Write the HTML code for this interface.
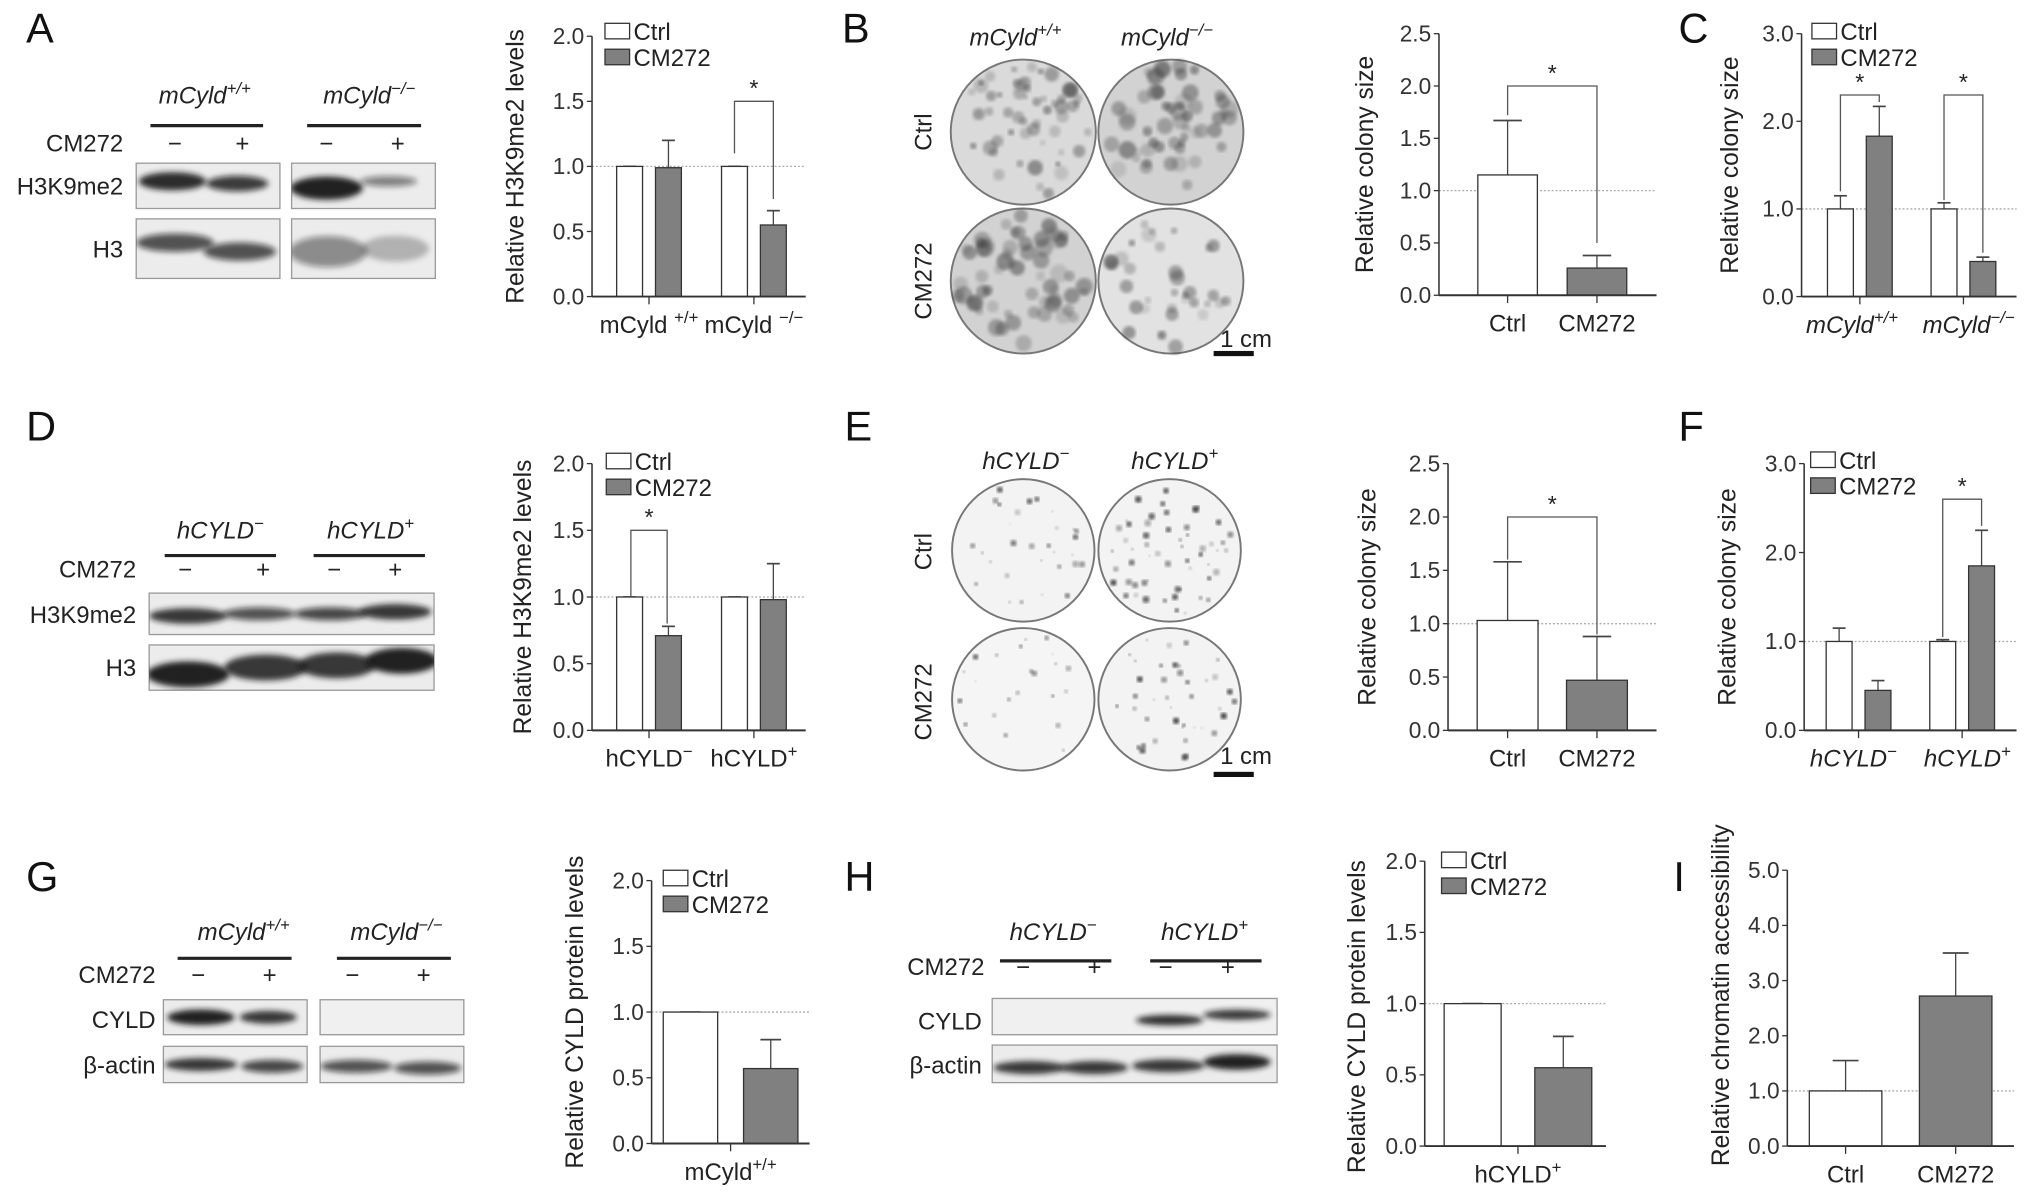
<!DOCTYPE html>
<html><head><meta charset="utf-8"><style>
html,body{margin:0;padding:0;background:#fff}
svg{display:block;font-family:"Liberation Sans",Arial,sans-serif}
</style></head><body>
<svg id="fig" width="2031" height="1194" viewBox="0 0 1568 922" xmlns="http://www.w3.org/2000/svg">
<defs>
<filter id="blur2" x="-20%" y="-50%" width="140%" height="200%"><feGaussianBlur stdDeviation="2.2"/></filter>
<filter id="blur1"><feGaussianBlur stdDeviation="1.3"/></filter>
</defs>
<g id="static"></g>
</svg>
<script>
// ---------- DATA ----------
const aGroups=["mCyld+/+","mCyld−/−"];
const aCtrl=[1.0,1.0];
const aCM=[0.99,0.55];
const aCtrlErr=[1.0,1.0];
const aCMErr=[1.2,0.66];
const bCats=["Ctrl","CM272"];
const bVals=[1.15,0.26];
const bErr=[1.67,0.38];
const cGroups=["mCyld+/+","mCyld−/−"];
const cCtrl=[1.0,1.0];
const cCM=[1.83,0.4];
const cCtrlErr=[1.15,1.07];
const cCMErr=[2.17,0.45];
const dGroups=["hCYLD−","hCYLD+"];
const dCtrl=[1.0,1.0];
const dCM=[0.71,0.98];
const dCtrlErr=[1.0,1.0];
const dCMErr=[0.78,1.25];
const eCats=["Ctrl","CM272"];
const eVals=[1.03,0.47];
const eErr=[1.58,0.88];
const fGroups=["hCYLD−","hCYLD+"];
const fCtrl=[1.0,1.0];
const fCM=[0.45,1.85];
const fCtrlErr=[1.15,1.02];
const fCMErr=[0.56,2.25];
const gGroups=["mCyld+/+"];
const gCtrl=[1.0];
const gCM=[0.57];
const gCtrlErr=[1.0];
const gCMErr=[0.79];
const hGroups=["hCYLD+"];
const hCtrl=[1.0];
const hCM=[0.55];
const hCtrlErr=[1.0];
const hCMErr=[0.77];
const iCats=["Ctrl","CM272"];
const iVals=[1.0,2.72];
const iErr=[1.55,3.5];

const NS="http://www.w3.org/2000/svg";
const root=document.getElementById('static');
function el(tag,attrs,parent,text){const e=document.createElementNS(NS,tag);for(const k in attrs)e.setAttribute(k,attrs[k]);if(text!==undefined)e.textContent=text;(parent||root).appendChild(e);return e;}

function label(t,x,y,sub,opts){
  const o=opts||{};
  const e=el('text',{x:x,y:y,'font-size':o.fs||18,'text-anchor':o.anchor||'middle','font-style':o.italic?'italic':'normal',fill:'#222'},o.parent);
  
  
  if(o.rot!==undefined)e.setAttribute('transform','rotate('+o.rot+' '+x+' '+y+')');
  e.appendChild(document.createTextNode(t));
  if(sub){el('tspan',{'font-size':(o.fs||18)*0.7,dy:-(o.fs||18)*0.4},e,sub);}
  return e;
}

function panelLetter(t,x,y){const e=el('text',{x:x,y:y,'font-size':32,fill:'#111'},root,t);

}

function chart(name,c){
  const g=el('g',{});
  
  
  const y=v=>c.yb-v/c.max*(c.yb-c.yt);
  const r=el('line',{x1:c.ax,x2:c.x1,y1:y(1),y2:y(1),stroke:'#aaa','stroke-width':1,'stroke-dasharray':'1.5,1.5'},g);
  
  
  c.bars.forEach((b,i)=>{
    const bx=c.centers[b.g]+b.off-c.bw/2;
    const eb=el('line',{x1:bx+c.bw/2,x2:bx+c.bw/2,y1:y(b.v),y2:y(b.e),stroke:'#444','stroke-width':1},g);
    
    
    const cap=el('line',{x1:bx+c.bw/2-c.cap/2,x2:bx+c.bw/2+c.cap/2,y1:y(b.e),y2:y(b.e),stroke:'#444','stroke-width':1.3},g);
    
    
    const rc=el('rect',{x:bx,y:y(b.v),width:c.bw,height:c.yb-y(b.v),fill:b.fill,stroke:'#333','stroke-width':1},g);
    
    
  });
  const ya=el('line',{x1:c.ax,x2:c.ax,y1:c.yt,y2:c.yb,stroke:'#333','stroke-width':1.2},g);
  
  
  const xa=el('line',{x1:c.ax,x2:c.x1,y1:c.yb,y2:c.yb,stroke:'#333','stroke-width':1.5},g);
  
  
  for(let v=0;v<=c.max+1e-9;v+=c.step){
    el('line',{x1:c.ax-4,x2:c.ax,y1:y(v),y2:y(v),stroke:'#333'},g);
    const t=el('text',{x:c.ax-6,y:y(v)+6,'font-size':17.5,'text-anchor':'end',fill:'#333'},g,v.toFixed(1));
    
    
  }
  c.xlabels.forEach((xl,i)=>{
    el('line',{x1:c.centers[i],x2:c.centers[i],y1:c.yb,y2:c.yb+6,stroke:'#333'},g);
    label(xl.t,c.centers[i]+(xl.dx||0),c.yb+28,xl.sup,{italic:xl.it,parent:g,name:'x-tick-label',fs:18.5});
  });
  label(c.title,c.tx,(c.yt+c.yb)/2+(c.tdy||0),null,{rot:-90,parent:g,name:'y-axis-title',fs:19});
  if(c.legend){
    const [lx,ly]=c.legend;
    const l1=el('rect',{x:lx,y:ly-7,width:19,height:12,fill:'#fff',stroke:'#333'},g);
    
    
    label('Ctrl',lx+22,ly+6,null,{anchor:'start',parent:g,name:'legend-entry-ctrl',fs:18.5});
    const l2=el('rect',{x:lx,y:ly+13,width:19,height:12,fill:'#808080',stroke:'#333'},g);
    
    
    label('CM272',lx+22,ly+26,null,{anchor:'start',parent:g,name:'legend-entry-cm272',fs:18.5});
  }
  (c.brackets||[]).forEach(br=>{
    const p=el('path',{d:`M${br.xl},${y(br.l)}V${y(br.top)}H${br.xr}V${y(br.r)}`,fill:'none',stroke:'#555','stroke-width':1},g);
    
    
    label('*',(br.xl+br.xr)/2,y(br.top)-4,null,{parent:g,name:'significance-star',fs:18});
  });
}
function grouped(ctrl,cm,ce,me,off){const bars=[];ctrl.forEach((v,i)=>{bars.push({g:i,off:-off,v:v,e:ce[i],fill:'#fff'});bars.push({g:i,off:off,v:cm[i],e:me[i],fill:'#808080'});});return bars;}
function single(vals,errs){return vals.map((v,i)=>({g:i,off:0,v:v,e:errs[i],fill:i===0?'#fff':'#808080'}));}

chart('chart-a',{ax:457,x1:622,yb:229,yt:28,max:2,step:0.5,centers:[501,582],bw:20,cap:10,
 bars:grouped(aCtrl,aCM,aCtrlErr,aCMErr,15),
 xlabels:[{t:'mCyld ',sup:'+/+'},{t:'mCyld ',sup:'−/−'}],title:'Relative H3K9me2 levels',tx:404,legend:[467,25],
 brackets:[{xl:567,xr:597,top:1.5,l:1.1,r:0.75}]});
chart('chart-b',{ax:1111,x1:1279,yb:228,yt:26,max:2.5,step:0.5,centers:[1164,1233],bw:46,cap:22,
 bars:single(bVals,bErr),xlabels:[{t:bCats[0]},{t:bCats[1]}],title:'Relative colony size',tx:1060,
 brackets:[{xl:1164,xr:1233,top:2.0,l:1.72,r:0.5}]});
chart('chart-c',{ax:1391,x1:1557,yb:229,yt:26,max:3,step:1,centers:[1436,1516],bw:20,cap:10,
 bars:grouped(cCtrl,cCM,cCtrlErr,cCMErr,15),
 xlabels:[{t:'mCyld',sup:'+/+',it:1,dx:-6},{t:'mCyld',sup:'−/−',it:1,dx:4}],title:'Relative colony size',tx:1342,legend:[1399,25],
 brackets:[{xl:1421,xr:1451,top:2.3,l:1.2,r:2.22},{xl:1501,xr:1531,top:2.3,l:1.1,r:0.5}]});
chart('chart-d',{ax:457,x1:622,yb:564,yt:358,max:2,step:0.5,centers:[501,582],bw:20,cap:10,
 bars:grouped(dCtrl,dCM,dCtrlErr,dCMErr,15),
 xlabels:[{t:'hCYLD',sup:'−'},{t:'hCYLD',sup:'+'}],title:'Relative H3K9me2 levels',tx:410,legend:[468,357],
 brackets:[{xl:487,xr:515,top:1.5,l:1.0,r:0.8}]});
chart('chart-e',{ax:1118,x1:1279,yb:564,yt:358,max:2.5,step:0.5,centers:[1164,1233],bw:47,cap:22,
 bars:single(eVals,eErr),xlabels:[{t:eCats[0]},{t:eCats[1]}],title:'Relative colony size',tx:1062,
 brackets:[{xl:1164,xr:1233,top:2.0,l:1.6,r:0.9}]});
chart('chart-f',{ax:1393,x1:1557,yb:564,yt:358,max:3,step:1,centers:[1435,1515],bw:20,cap:10,
 bars:grouped(fCtrl,fCM,fCtrlErr,fCMErr,15),
 xlabels:[{t:'hCYLD',sup:'−',it:1,dx:-4},{t:'hCYLD',sup:'+',it:1,dx:4}],title:'Relative colony size',tx:1340,legend:[1398,356],
 brackets:[{xl:1500,xr:1530,top:2.6,l:1.05,r:2.3}]});
chart('chart-g',{ax:503,x1:625,yb:883,yt:680,max:2,step:0.5,centers:[564],bw:42,cap:16,
 bars:grouped(gCtrl,gCM,gCtrlErr,gCMErr,31),
 xlabels:[{t:'mCyld',sup:'+/+'}],title:'Relative CYLD protein levels',tx:450,tdy:0,legend:[512,679]});
chart('chart-h',{ax:1100,x1:1240,yb:885,yt:665,max:2,step:0.5,centers:[1172],bw:44,cap:16,
 bars:grouped(hCtrl,hCM,hCtrlErr,hCMErr,35),
 xlabels:[{t:'hCYLD',sup:'+'}],title:'Relative CYLD protein levels',tx:1054,tdy:10,legend:[1113,665]});
chart('chart-i',{ax:1380,x1:1555,yb:885,yt:672,max:5,step:1,centers:[1425,1510],bw:56,cap:20,
 bars:single(iVals,iErr),xlabels:[{t:iCats[0]},{t:iCats[1]}],title:'Relative chromatin accessibility',tx:1335,tdy:-10});

[['A',20,33],['B',650,33],['C',1296,33],['D',20,340],['E',652,340],['F',1296,340],['G',20,688],['H',652,688],['I',1292,688]].forEach(p=>panelLetter(...p));

function blot(name,x,y,w,h,bands,bg){
  const g=el('g',{});
  
  
  el('rect',{x:x,y:y,width:w,height:h,fill:bg||'#ececec',stroke:'#999','stroke-width':1},g);
  const cp='cp'+Math.round(x)+'_'+Math.round(y);
  const c=el('clipPath',{id:cp},g);el('rect',{x:x,y:y,width:w,height:h},c);
  const bg2=el('g',{'clip-path':`url(#${cp})`},g);
  bands.forEach(b=>el('ellipse',{cx:b[0],cy:y+h*b[1],rx:b[2],ry:b[3],fill:`rgba(20,20,20,${b[4]})`,filter:'url(#blur2)'},bg2));
}
function blotHeader(lbls,lines,signs,cmY,cmX,lblY,lineY){
  lbls.forEach(l=>label(l[0],l[1],lblY,l[2],{italic:1,name:'genotype-label',fs:18.5}));
  lines.forEach(l=>{const e=el('line',{x1:l[0],x2:l[1],y1:lineY,y2:lineY,stroke:'#222','stroke-width':2.5});});
  label('CM272',cmX,cmY+6,null,{anchor:'end',name:'treatment-label',fs:18.5});
  signs.forEach((s,i)=>label(i%2?'+':'−',s,cmY+6,null,{name:'treatment-sign',fs:18.5}));
}
blotHeader([['mCyld',158,'+/+'],['mCyld',285,'−/−']],[[116,203],[237,325]],[135,187,252,307],111,95,80,97);
label('H3K9me2',95,150,null,{anchor:'end',name:'row-label',fs:18.5});
label('H3',95,199,null,{anchor:'end',name:'row-label',fs:18.5});
blot('blot-a-h3k9me2-1',105,126,111,35,[[133,0.4,26,7,0.9],[183,0.45,24,6,0.8]]);
blot('blot-a-h3k9me2-2',225,126,111,35,[[252,0.55,28,9,0.95],[300,0.4,22,4,0.5]]);
blot('blot-a-h3-1',105,169,111,46,[[135,0.4,30,7,0.7],[185,0.55,28,7,0.7]]);
blot('blot-a-h3-2',225,169,111,46,[[253,0.55,30,12,0.45],[305,0.5,26,10,0.25]]);
blotHeader([['hCYLD',170,'−'],['hCYLD',286,'+']],[[127,213],[242,328]],[143,203,258,305],440,105,416,429);
label('H3K9me2',105,481,null,{anchor:'end',name:'row-label',fs:18.5});
label('H3',105,522,null,{anchor:'end',name:'row-label',fs:18.5});
blot('blot-d-h3k9me2',115,458,220,32,[[145,0.55,30,6,0.85],[200,0.5,28,5,0.7],[255,0.5,28,5,0.75],[305,0.45,28,6,0.85]]);
blot('blot-d-h3',115,498,220,35,[[145,0.65,32,10,0.95],[205,0.5,32,10,0.85],[260,0.45,30,10,0.85],[310,0.35,28,10,0.95]]);
blotHeader([['mCyld',188,'+/+'],['mCyld',306,'−/−']],[[137,225],[260,348]],[153,208,272,327],753,120,726,740);
label('CYLD',120,794,null,{anchor:'end',name:'row-label',fs:18.5});
label('β-actin',120,829,null,{anchor:'end',name:'row-label',fs:18.5});
blot('blot-g-cyld-1',126,772,111,27,[[155,0.5,26,6,0.95],[207,0.5,22,5,0.85]]);
blot('blot-g-cyld-2',247,772,111,27,[],'#f0f0f0');
blot('blot-g-actin-1',126,808,111,28,[[155,0.5,28,5,0.85],[210,0.55,24,5,0.75]]);
blot('blot-g-actin-2',247,808,111,28,[[275,0.55,28,5,0.7],[330,0.6,26,5,0.7]]);
blotHeader([['hCYLD',813,'−'],['hCYLD',930,'+']],[[772,858],[888,974]],[790,845,900,948],747,760,726,742);
label('CYLD',758,795,null,{anchor:'end',name:'row-label',fs:18.5});
label('β-actin',758,829,null,{anchor:'end',name:'row-label',fs:18.5});
blot('blot-h-cyld',766,771,220,28,[[903,0.6,26,4,0.9],[955,0.45,26,4,0.85]],'#f0f0f0');
blot('blot-h-actin',766,807,220,29,[[795,0.6,28,5,0.85],[845,0.6,26,5,0.85],[902,0.55,28,5,0.85],[955,0.45,26,6,0.95]]);

let seed=7;function rnd(){seed=(seed*16807)%2147483647;return (seed-1)/2147483646;}
function plate(name,cx,cy,r,fill,n,minR,maxR,dark){
  const g=el('g',{});
  
  
  el('circle',{cx:cx,cy:cy,r:r,fill:fill,stroke:'#777','stroke-width':1.5},g);
  for(let i=0;i<n;i++){const a=rnd()*6.283,d=Math.sqrt(rnd())*(r-4);const rr=minR+rnd()*(maxR-minR);
    el('circle',{cx:cx+Math.cos(a)*d,cy:cy+Math.sin(a)*d,r:rr,fill:`rgba(60,60,60,${dark*(0.3+rnd()*0.7)})`,filter:'url(#blur1)'},g);}
}
label('mCyld',784,35,'+/+',{italic:1,name:'plate-col-label',fs:18.5});
label('mCyld',901,35,'−/−',{italic:1,name:'plate-col-label',fs:18.5});
label('Ctrl',719,102,null,{rot:-90,name:'plate-row-label',fs:18.5});
label('CM272',719,217,null,{rot:-90,name:'plate-row-label',fs:18.5});
plate('plate-b-wt-ctrl',790,102,56,'#dadada',55,2,6,0.5);
plate('plate-b-ko-ctrl',904,102,56,'#d2d2d2',55,3,7,0.5);
plate('plate-b-wt-cm',790,217,56,'#d2d2d2',60,3,7,0.5);
plate('plate-b-ko-cm',904,217,56,'#e2e2e2',35,2.5,6,0.5);
label('1 cm',962,268,null,{name:'scale-label',fs:18.5});
el('rect',{x:937,y:271,width:31,height:4,fill:'#111'});
label('hCYLD',792,362,'−',{italic:1,name:'plate-col-label',fs:18.5});
label('hCYLD',907,362,'+',{italic:1,name:'plate-col-label',fs:18.5});
label('Ctrl',719,426,null,{rot:-90,name:'plate-row-label',fs:18.5});
label('CM272',719,542,null,{rot:-90,name:'plate-row-label',fs:18.5});
plate('plate-e-neg-ctrl',790,425,55,'#f3f3f3',30,0.8,2.5,1);
plate('plate-e-pos-ctrl',903,425,55,'#f3f3f3',55,0.8,2.8,1);
plate('plate-e-neg-cm',790,540,55,'#f5f5f5',22,0.8,2.3,1);
plate('plate-e-pos-cm',903,540,55,'#f3f3f3',40,0.8,2.5,1);
label('1 cm',962,590,null,{name:'scale-label',fs:18.5});
el('rect',{x:937,y:596,width:31,height:4,fill:'#111'});
</script>
</body></html>
